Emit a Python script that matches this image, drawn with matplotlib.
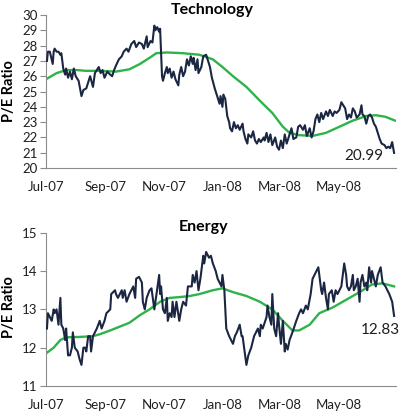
import numpy as np
import pandas as pd
import matplotlib
matplotlib.use("Agg")
import matplotlib.pyplot as plt
import matplotlib.dates as mdates

plt.rcParams['font.family'] = ['Lato', 'DejaVu Sans']

start = pd.Timestamp("2007-07-01")

# Technology P/E (days since Jul 1 2007, value)
tech_day = [1, 2, 4, 7, 8, 9, 11, 13, 15, 16, 18, 20, 21, 23, 25, 27, 29, 31, 34, 37,
            39, 42, 44, 46, 49, 51, 53, 55, 57, 59, 61, 64, 67, 69, 71, 73, 76, 79, 81, 84,
            86, 89, 92, 94, 97, 100, 102, 105, 106, 109, 111, 113, 114, 116, 118, 119, 121, 122, 124, 126,
            127, 129, 131, 133, 135, 138, 139, 141, 143, 145, 147, 149, 151, 153, 154, 156, 158, 159, 162, 164,
            167, 169, 171, 173, 176, 178, 179, 181, 182, 184, 185, 187, 189, 191, 192, 194, 196, 198, 200, 202,
            205, 206, 208, 210, 211, 214, 216, 218, 220, 222, 224, 227, 228, 230, 232, 234, 236, 239, 241, 243,
            245, 247, 249, 251, 254, 256, 258, 261, 263, 265, 268, 270, 272, 275, 277, 279, 281, 283, 285, 287,
            289, 292, 294, 296, 299, 301, 303, 306, 308, 310, 312, 314, 316, 318, 320, 322, 324, 327, 329, 330,
            332, 334, 336, 338, 340, 342, 344, 346, 348, 350, 353, 355, 357, 359, 361, 363]
tech_pe = [27.0, 27.6, 27.6, 26.8, 27.6, 27.8, 27.6, 27.6, 27.4, 27.5, 26.5, 26.1, 26.5, 25.9, 26.3, 25.8, 26.5, 26.0, 25.7, 24.7,
           25.1, 25.2, 25.6, 26.0, 25.3, 26.2, 26.4, 26.6, 26.2, 26.4, 25.9, 26.3, 26.1, 26.0, 26.4, 26.7, 27.1, 27.3, 27.6, 27.8,
           27.6, 28.1, 28.3, 27.9, 28.2, 28.1, 27.8, 28.6, 27.9, 28.3, 28.2, 29.3, 29.0, 29.2, 28.9, 29.1, 26.0, 25.7, 26.2, 26.6,
           26.2, 26.5, 25.9, 26.3, 25.8, 25.4, 26.1, 26.6, 26.0, 26.3, 27.1, 26.7, 27.3, 26.8, 27.2, 26.4, 27.1, 26.2, 26.6, 27.3,
           27.4, 27.0, 26.6, 25.9, 25.2, 24.8, 24.6, 24.2, 24.7, 24.0, 24.8, 24.5, 23.4, 23.0, 22.6, 22.4, 23.0, 22.6, 22.8, 22.5,
           22.9, 22.4, 21.9, 21.6, 22.2, 22.0, 22.4, 21.8, 21.6, 21.9, 21.7, 22.0, 21.8, 22.3, 21.7, 22.2, 21.5, 22.0, 21.4, 21.2,
           21.8, 21.3, 22.2, 21.6, 22.2, 22.6, 21.9, 22.0, 22.7, 22.8, 22.5, 22.8, 22.1, 22.6, 22.0, 22.4, 23.2, 23.5, 23.0, 23.6,
           23.2, 23.7, 23.4, 23.8, 23.4, 23.7, 23.6, 23.8, 24.3, 24.1, 23.9, 23.2, 23.5, 23.3, 23.9, 23.7, 23.3, 23.5, 24.1, 23.5,
           23.4, 22.9, 23.4, 23.5, 23.3, 22.9, 22.7, 22.3, 21.9, 21.6, 21.5, 21.3, 21.4, 21.3, 21.7, 20.99]
tech_ma_day = [0, 11, 21, 32, 42, 56, 73, 87, 98, 108, 115, 126, 143, 160, 174, 184, 195, 209, 223, 236,
               247, 254, 264, 278, 292, 306, 320, 334, 344, 354, 364]
tech_ma = [25.8, 26.2, 26.4, 26.4, 26.35, 26.35, 26.3, 26.45, 26.8, 27.2, 27.5, 27.55, 27.5, 27.4, 27.1, 26.6, 26.0, 25.3, 24.4, 23.6,
           22.7, 22.3, 22.15, 22.1, 22.3, 22.7, 23.1, 23.4, 23.45, 23.35, 23.1]

# Energy P/E
energy_day = [1, 2, 4, 6, 8, 9, 11, 13, 15, 16, 18, 20, 21, 23, 25, 27, 28, 30, 33, 35,
              37, 39, 41, 42, 44, 46, 47, 49, 53, 56, 58, 61, 63, 67, 68, 72, 73, 75, 79, 80,
              82, 84, 87, 91, 93, 94, 97, 100, 101, 103, 105, 108, 110, 113, 118, 119, 120, 122, 124, 126,
              127, 129, 131, 132, 134, 136, 139, 141, 143, 146, 148, 152, 153, 155, 157, 159, 161, 164, 165, 167,
              170, 172, 174, 177, 179, 181, 183, 184, 186, 188, 191, 195, 197, 199, 202, 204, 205, 209, 211, 214,
              217, 221, 223, 224, 226, 230, 231, 233, 235, 236, 238, 240, 242, 243, 245, 247, 249, 250, 252, 254,
              257, 261, 264, 266, 268, 271, 273, 276, 278, 282, 284, 287, 288, 290, 292, 294, 295, 298, 300, 302,
              304, 308, 311, 313, 314, 316, 318, 320, 321, 323, 325, 327, 328, 330, 332, 334, 335, 337, 339, 340,
              342, 344, 346, 349, 351, 354, 358, 361, 363]
energy_pe = [12.5, 12.9, 12.8, 12.7, 13.0, 12.9, 13.0, 12.6, 13.3, 12.6, 12.5, 12.2, 12.5, 11.8, 11.8, 12.0, 12.4, 12.0, 11.9, 11.7,
             11.55, 12.0, 12.0, 11.9, 12.3, 12.3, 11.9, 12.3, 12.5, 12.7, 12.5, 12.7, 12.9, 13.0, 13.4, 13.5, 13.4, 13.3, 13.5, 13.3,
             13.5, 13.2, 13.4, 13.6, 13.3, 13.8, 13.85, 13.7, 13.2, 13.0, 13.3, 13.5, 13.55, 13.0, 13.9, 13.4, 13.6, 13.0, 12.9, 13.3,
             12.7, 12.9, 12.8, 13.2, 12.8, 13.2, 12.7, 13.0, 13.2, 13.1, 13.6, 13.6, 13.9, 13.7, 14.0, 13.5, 13.8, 14.4, 14.2, 14.5,
             14.35, 14.4, 14.2, 14.0, 13.8, 13.7, 13.6, 13.9, 13.5, 12.5, 12.3, 12.1, 12.3, 12.4, 12.6, 12.3, 12.3, 11.55, 11.8, 12.0,
             12.3, 12.5, 12.3, 12.6, 12.5, 12.8, 13.1, 12.8, 12.6, 13.4, 12.5, 12.3, 12.9, 12.6, 12.1, 12.7, 11.9, 12.1, 11.95, 12.2,
             12.4, 12.7, 12.9, 13.0, 12.9, 13.1, 13.0, 13.4, 13.8, 14.0, 14.1, 13.5, 13.4, 13.7, 13.3, 13.0, 13.4, 13.5, 13.2, 13.5,
             13.4, 13.6, 14.2, 13.9, 13.6, 13.5, 13.6, 13.9, 13.5, 13.6, 13.8, 13.2, 13.7, 13.9, 13.6, 13.7, 13.5, 14.1, 13.7, 14.0,
             13.8, 13.6, 13.9, 14.1, 13.7, 13.6, 13.4, 13.2, 12.83]
energy_ma_day = [0, 8, 15, 21, 35, 49, 56, 67, 77, 87, 98, 108, 119, 129, 139, 150, 160, 174, 184, 195,
                 209, 223, 236, 247, 257, 264, 275, 285, 299, 313, 327, 340, 351, 363]
energy_ma = [11.85, 12.0, 12.2, 12.27, 12.28, 12.3, 12.35, 12.45, 12.55, 12.65, 12.85, 13.0, 13.2, 13.3, 13.32, 13.35, 13.4, 13.5, 13.55, 13.45,
             13.35, 13.2, 13.0, 12.7, 12.45, 12.45, 12.6, 12.9, 13.05, 13.25, 13.45, 13.65, 13.68, 13.6]

tick_dates = ["2007-07-01", "2007-09-01", "2007-11-01", "2008-01-01", "2008-03-01", "2008-05-01"]

NAVY = "#1b2742"
GREEN = "#2db34a"
AXIS = "#8c8c8c"
TXT = "#1f1f1f"


def to_dates(days):
    return start + pd.to_timedelta(np.array(days), unit="D")


def style_ax(ax, ylim, yticks):
    ax.set_xlim(start, pd.Timestamp("2008-06-30"))
    ax.set_ylim(*ylim)
    ax.set_yticks(yticks)
    ax.set_xticks(pd.to_datetime(tick_dates))
    ax.xaxis.set_major_formatter(mdates.DateFormatter("%b-%y"))
    for s in ["top", "right"]:
        ax.spines[s].set_visible(False)
    for s in ["left", "bottom"]:
        ax.spines[s].set_color(AXIS)
        ax.spines[s].set_linewidth(0.8)
    ax.tick_params(axis="y", length=4, width=0.8, color=AXIS, labelsize=9.5, labelcolor=TXT, pad=2)
    ax.tick_params(axis="x", length=0, labelsize=9.5, labelcolor=TXT, pad=9.5)


fig = plt.figure(figsize=(4.0, 4.15), dpi=100)
ax1 = fig.add_axes([0.115, 0.595, 0.875, 0.369])
ax2 = fig.add_axes([0.115, 0.070, 0.875, 0.369])

ax1.plot(to_dates(tech_ma_day), tech_ma, color=GREEN, lw=1.7, zorder=2)
ax1.plot(to_dates(tech_day), tech_pe, color=NAVY, lw=1.5, zorder=3)
style_ax(ax1, (20, 30), range(20, 31))
ax1.text(to_dates([331])[0], 20.8, f"{tech_pe[-1]:.2f}", ha="center", va="center",
         fontsize=11, color=TXT)

ax2.plot(to_dates(energy_ma_day), energy_ma, color=GREEN, lw=1.7, zorder=2)
ax2.plot(to_dates(energy_day), energy_pe, color=NAVY, lw=1.5, zorder=3)
style_ax(ax2, (11, 15), range(11, 16))
ax2.text(to_dates([349])[0], 12.47, f"{energy_pe[-1]:.2f}", ha="center", va="center",
         fontsize=11, color=TXT)

fig.text(0.53, 0.976, "Technology", ha="center", va="center", fontsize=11.5, fontweight="bold", color="black")
fig.text(0.51, 0.453, "Energy", ha="center", va="center", fontsize=11.5, fontweight="bold", color="black")
fig.text(0.022, 0.78, "P/E Ratio", ha="center", va="center", rotation=90, fontsize=10.5, fontweight="bold")
fig.text(0.022, 0.26, "P/E Ratio", ha="center", va="center", rotation=90, fontsize=10.5, fontweight="bold")

fig.savefig("out.png", dpi=100)
